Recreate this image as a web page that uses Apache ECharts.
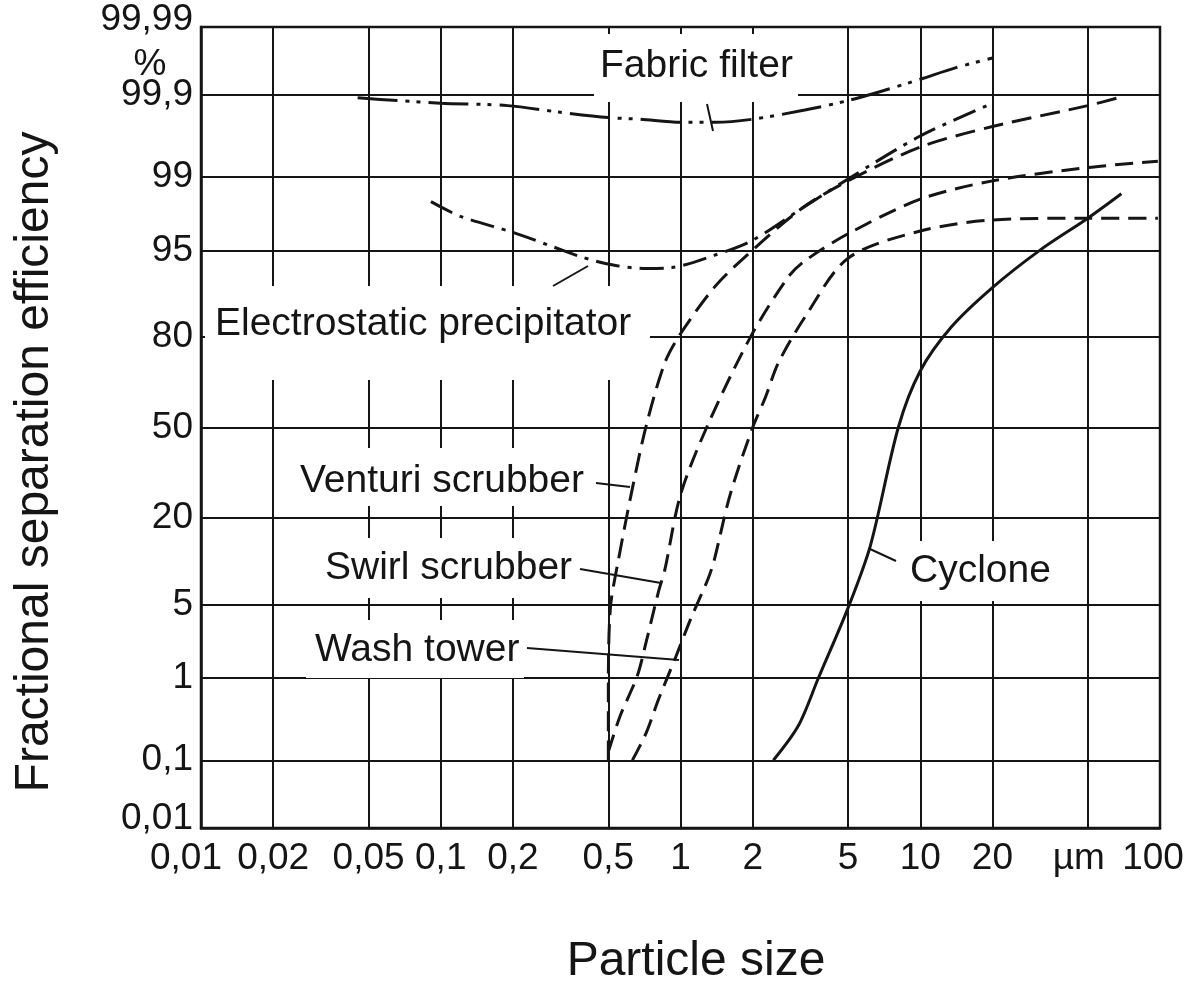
<!DOCTYPE html>
<html>
<head>
<meta charset="utf-8">
<script src="https://cdn.jsdelivr.net/npm/echarts@6/dist/echarts.min.js"></script>
<style>
  html, body { margin: 0; background: #fff; }
  #chart { width: 1195px; height: 983px; }
</style>
</head>
<body>
<div id="chart"></div>
<script>
// axis ticks (particle size in µm, efficiency in %)
var sizeTicks = [0.01, 0.02, 0.05, 0.1, 0.2, 0.5, 1, 2, 5, 10, 20, 50, 100];
var sizeLabels = ['0,01', '0,02', '0,05', '0,1', '0,2', '0,5', '1', '2', '5', '10', '20', 'µm', '100'];
var effTicks = [0.01, 0.1, 1, 5, 20, 50, 80, 95, 99, 99.9, 99.99];
var effLabels = ['0,01', '0,1', '1', '5', '20', '50', '80', '95', '99', '99,9', '99,99'];

// curves: [particle size µm, efficiency %]
var fabricFilter = [[0.045, 99.89], [0.066, 99.88], [0.1, 99.87], [0.19, 99.86], [0.31, 99.83], [0.5, 99.8], [0.68, 99.79], [1, 99.77], [1.4, 99.77], [2, 99.79], [3.3, 99.84], [5, 99.88], [7.1, 99.913], [10, 99.939], [14, 99.958], [20, 99.97]];
var electrostatic = [[0.091, 98.2], [0.121, 97.5], [0.2, 96.5], [0.28, 95.5], [0.39, 94.3], [0.53, 93.4], [0.72, 93.0], [0.91, 93.1], [1.38, 94.5], [2, 95.9], [3.2, 97.9], [5, 98.95], [10, 99.66], [20, 99.87]];
var venturi = [[0.5, 0.1], [0.5, 0.76], [0.51, 4.7], [0.55, 10.8], [0.63, 28.6], [0.72, 50.8], [0.86, 72.6], [1, 80.8], [1.38, 90.3], [1.85, 94.3], [3.2, 97.9], [5, 98.9], [10, 99.54], [20, 99.74], [50, 99.86], [67, 99.89]];
var swirl = [[0.5, 0.13], [0.56, 0.37], [0.66, 1.05], [0.72, 2.35], [0.81, 6.4], [0.86, 9.3], [1, 26.6], [1.3, 51], [1.96, 80], [2.8, 91.8], [3.3, 93.9], [5, 96.4], [10, 98.3], [20, 98.9], [50, 99.21], [98, 99.33]];
var washTower = [[0.63, 0.1], [0.72, 0.23], [0.81, 0.58], [0.95, 1.6], [1.11, 3.9], [1.3, 7.9], [1.38, 10.8], [1.61, 26.6], [2, 50], [2.26, 61], [2.56, 72.6], [3.3, 84.7], [5, 94.2], [10, 96.6], [20, 97.3], [47, 97.4], [98, 97.4]];
var cyclone = [[2.44, 0.1], [3.1, 0.28], [3.76, 1], [5, 4.7], [6.2, 13.7], [8.1, 50], [10, 70], [13.5, 82.5], [20, 90.3], [31.5, 95], [50, 97.4], [69, 98.5]];

// inverse normal cdf (Acklam) -> probability paper scale
function probit(p) {
  var a = [-3.969683028665376e+01, 2.209460984245205e+02, -2.759285104469687e+02, 1.383577518672690e+02, -3.066479806614716e+01, 2.506628277459239e+00];
  var b = [-5.447609879822406e+01, 1.615858368580409e+02, -1.556989798598866e+02, 6.680131188771972e+01, -1.328068155288572e+01];
  var c = [-7.784894002430293e-03, -3.223964580411365e-01, -2.400758277161838e+00, -2.549732539343734e+00, 4.374664141464968e+00, 2.938163982698783e+00];
  var d = [7.784695709041462e-03, 3.224671290700398e-01, 2.445134137142996e+00, 3.754408661907416e+00];
  var pl = 0.02425, q, r;
  if (p < pl) {
    q = Math.sqrt(-2 * Math.log(p));
    return (((((c[0]*q+c[1])*q+c[2])*q+c[3])*q+c[4])*q+c[5]) / ((((d[0]*q+d[1])*q+d[2])*q+d[3])*q+1);
  }
  if (p > 1 - pl) {
    q = Math.sqrt(-2 * Math.log(1 - p));
    return -(((((c[0]*q+c[1])*q+c[2])*q+c[3])*q+c[4])*q+c[5]) / ((((d[0]*q+d[1])*q+d[2])*q+d[3])*q+1);
  }
  q = p - 0.5; r = q * q;
  return (((((a[0]*r+a[1])*r+a[2])*r+a[3])*r+a[4])*r+a[5])*q / (((((b[0]*r+b[1])*r+b[2])*r+b[3])*r+b[4])*r+1);
}
function tx(v) { return Math.log10(v); }
function ty(v) { return probit(v / 100); }
function toXY(arr) { return arr.map(function (p) { return [tx(p[0]), ty(p[1])]; }); }
function nearest(ticks, f, v) {
  var best = 0, bd = Infinity;
  ticks.forEach(function (t, i) { var dd = Math.abs(f(t) - v); if (dd < bd) { bd = dd; best = i; } });
  return best;
}

var FONT = '"Liberation Sans", Arial, Helvetica, sans-serif';
var INK = '#151515';

var el = echarts.init(document.getElementById('chart'));

function curve(name, data, dash) {
  return {
    name: name,
    type: 'line',
    data: toXY(data),
    symbol: 'none',
    smooth: 0.3,
    silent: true,
    z: 3,
    lineStyle: { color: INK, width: 3, type: dash }
  };
}

function label(txt, x, y, box) {
  var items = [];
  if (box) {
    items.push({ type: 'rect', z: 10, shape: { x: box[0], y: box[1], width: box[2], height: box[3] }, style: { fill: '#fff' } });
  }
  items.push({ type: 'text', z: 11, x: x, y: y, style: { text: txt, font: '39px ' + FONT, fill: INK, textAlign: 'left', textVerticalAlign: 'middle' } });
  return items;
}
function leader(x1, y1, x2, y2) {
  return { type: 'line', z: 11, shape: { x1: x1, y1: y1, x2: x2, y2: y2 }, style: { stroke: INK, lineWidth: 2 } };
}

var graphics = [].concat(
  label('Fabric filter', 600, 66, [594, 34, 204, 68]),
  label('Electrostatic precipitator', 215, 324, [205, 286, 445, 94]),
  label('Venturi scrubber', 300, 481, [292, 448, 304, 58]),
  label('Swirl scrubber', 325, 568, [316, 538, 262, 60]),
  label('Wash tower', 315, 650, [306, 620, 218, 58]),
  label('Cyclone', 910, 571, [900, 541, 158, 60]),
  [
    leader(707, 104, 713, 131),
    leader(553, 286, 588, 266),
    leader(596, 483, 630, 487),
    leader(580, 569, 661, 583),
    leader(527, 648, 679, 660),
    leader(870, 549, 896, 561),
    { type: 'text', z: 11, x: 150, y: 65, style: { text: '%', font: '37px ' + FONT, fill: INK, textAlign: 'center', textVerticalAlign: 'middle' } },
    { type: 'text', z: 11, x: 35, y: 462, rotation: Math.PI / 2, style: { text: 'Fractional separation efficiency', font: '48px ' + FONT, fill: INK, textAlign: 'center', textVerticalAlign: 'middle' } },
    { type: 'text', z: 11, x: 696, y: 962, style: { text: 'Particle size', font: '48px ' + FONT, fill: INK, textAlign: 'center', textVerticalAlign: 'middle' } }
  ]
);

var option = {
  backgroundColor: '#fff',
  animation: false,
  grid: { left: 201, right: 35, top: 27, bottom: 155, show: true, borderColor: INK, borderWidth: 2.5 },
  xAxis: {
    type: 'value',
    min: tx(sizeTicks[0]),
    max: tx(sizeTicks[sizeTicks.length - 1]),
    axisLine: { show: true, onZero: false, lineStyle: { color: INK, width: 2.5 } },
    axisTick: { show: false, customValues: sizeTicks.map(tx) },
    splitLine: { show: true, lineStyle: { color: INK, width: 2 } },
    axisLabel: {
      customValues: sizeTicks.map(tx),
      margin: 12,
      color: INK,
      fontFamily: FONT,
      fontSize: 37,
      formatter: function (v) {
        var i = nearest(sizeTicks, tx, v);
        if (i === 0) return '{first|' + sizeLabels[i] + '}';
        if (i === sizeTicks.length - 2) return '{unit|' + sizeLabels[i] + '}';
        if (i === sizeTicks.length - 1) return '{last|' + sizeLabels[i] + '}';
        return sizeLabels[i];
      },
      rich: {
        first: { fontFamily: FONT, fontSize: 37, color: INK, padding: [0, 30, 0, 0] },
        unit: { fontFamily: FONT, fontSize: 37, color: INK, padding: [0, 18, 0, 0] },
        last: { fontFamily: FONT, fontSize: 37, color: INK, padding: [0, 14, 0, 0] }
      }
    }
  },
  yAxis: {
    type: 'value',
    min: ty(effTicks[0]),
    max: ty(effTicks[effTicks.length - 1]),
    axisLine: { show: true, onZero: false, lineStyle: { color: INK, width: 2.5 } },
    axisTick: { show: false, customValues: effTicks.map(ty) },
    splitLine: { show: true, lineStyle: { color: INK, width: 2 } },
    axisLabel: {
      customValues: effTicks.map(ty),
      margin: 8,
      color: INK,
      fontFamily: FONT,
      fontSize: 37,
      formatter: function (v) {
        var i = nearest(effTicks, ty, v);
        if (i === 0) return '{lo|' + effLabels[i] + '}';
        if (i === effTicks.length - 1) return '{hi|' + effLabels[i] + '}';
        return effLabels[i];
      },
      rich: {
        lo: { fontFamily: FONT, fontSize: 37, color: INK, padding: [0, 0, 18, 0] },
        hi: { fontFamily: FONT, fontSize: 37, color: INK, padding: [0, 0, 14, 0] }
      }
    }
  },
  series: [
    curve('Fabric filter', fabricFilter, [40, 8, 4, 7, 4, 8]),
    curve('Electrostatic precipitator', electrostatic, [24, 8, 4, 8]),
    curve('Venturi scrubber', venturi, [20, 9]),
    curve('Swirl scrubber', swirl, [18, 9]),
    curve('Wash tower', washTower, [18, 9]),
    curve('Cyclone', cyclone, 'solid')
  ],
  graphic: graphics
};
el.setOption(option);
</script>
</body>
</html>
